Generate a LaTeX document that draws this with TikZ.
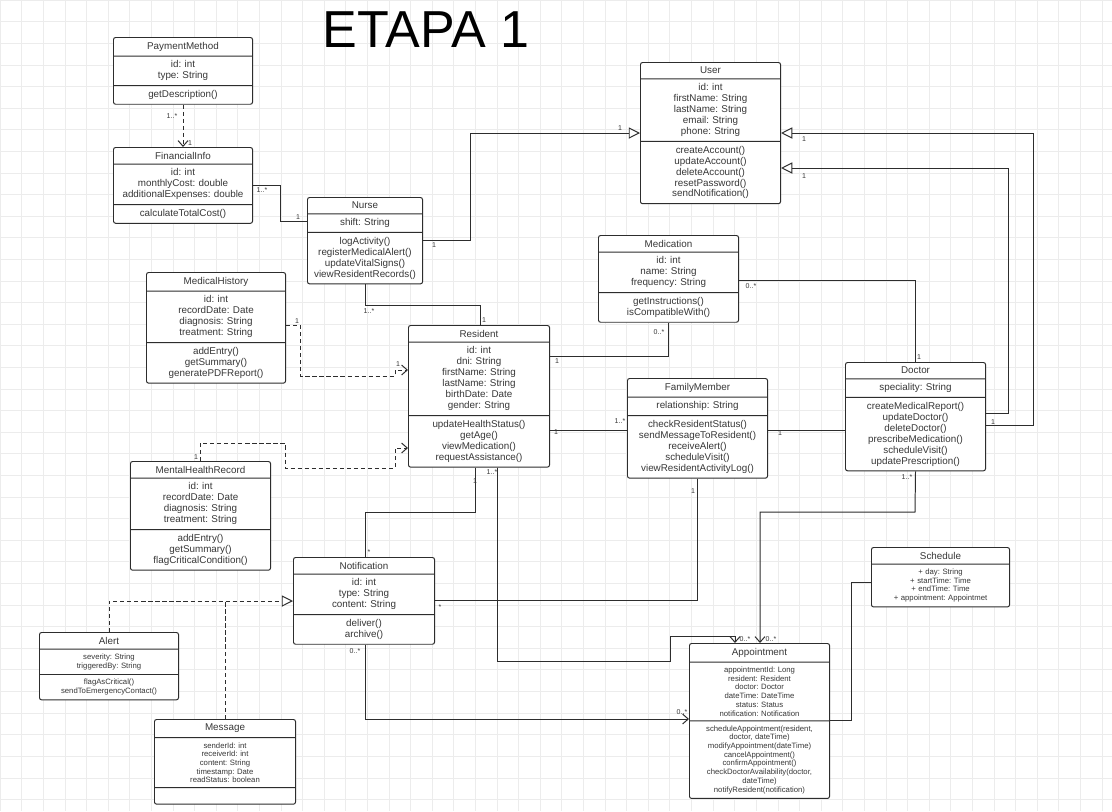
\documentclass[tikz,border=0pt]{standalone}
\usepackage{fontspec}
\setmainfont{Liberation Sans}
\frenchspacing
\usetikzlibrary{positioning,arrows.meta,shapes.multipart}
\definecolor{lineGrey}{RGB}{45,45,45}
\definecolor{textGrey}{RGB}{55,55,55}
\definecolor{gridGrey}{RGB}{236,236,236}

\begin{document}
\begin{tikzpicture}[
    x=0.025cm, y=-0.025cm,
    umlclass/.style={
        draw=lineGrey,
        fill=white,
        rounded corners=1.5pt,
        line width=0.7pt,
        rectangle split,
        rectangle split parts=3,
        anchor=north west,
        text width=#1,
        inner xsep=0pt,
        inner ysep=3pt,
        align=center,
        text=textGrey,
        font=\fontsize{7}{7.8}\selectfont
    },
    smallclass/.style={
        umlclass=#1,
        font=\fontsize{5.5}{6.2}\selectfont
    },
    assoc/.style={
        draw=lineGrey,
        line width=0.7pt
    },
    arr/.style={
        assoc,
        -{Straight Barb[length=4pt,width=7pt]}
    },
    dep/.style={
        arr,
        dash pattern=on 3pt off 2pt
    },
    gen/.style={
        assoc,
        -{Triangle[open,length=8pt,width=8pt,fill=white]}
    },
    mult/.style={
        font=\fontsize{5}{6}\selectfont,
        text=textGrey,
        inner sep=1pt
    }
]

% background and grid
\path[use as bounding box, fill=white] (0,0) rectangle (1112,811);
\draw[gridGrey, line width=0.4pt, step=0.54cm] (0,0) grid (1112,811);

\node[font=\fontsize{37}{40}\selectfont, text=black] (title) at (426,30) {ETAPA 1};

% classes
\node[umlclass=3.475cm] (payment) at (113,37) {PaymentMethod
    \nodepart{two} id: int\\ type: String
    \nodepart{three} getDescription()};

\node[umlclass=3.475cm] (financial) at (113,147) {FinancialInfo
    \nodepart{two} id: int\\ monthlyCost: double\\ additionalExpenses: double
    \nodepart{three} calculateTotalCost()};

\node[umlclass=3.5cm] (user) at (640,62) {User
    \nodepart{two} id: int\\ firstName: String\\ lastName: String\\ email: String\\ phone: String
    \nodepart{three} createAccount()\\ updateAccount()\\ deleteAccount()\\ resetPassword()\\ sendNotification()};

\node[umlclass=2.875cm] (nurse) at (307,197) {Nurse
    \nodepart{two} shift: String
    \nodepart{three} logActivity()\\ registerMedicalAlert()\\ updateVitalSigns()\\ viewResidentRecords()};

\node[umlclass=3.475cm] (medhistory) at (146,272) {MedicalHistory
    \nodepart{two} id: int\\ recordDate: Date\\ diagnosis: String\\ treatment: String
    \nodepart{three} addEntry()\\ getSummary()\\ generatePDFReport()};

\node[umlclass=3.5cm] (medication) at (598,235) {Medication
    \nodepart{two} id: int\\ name: String\\ frequency: String
    \nodepart{three} getInstructions()\\ isCompatibleWith()};

\node[umlclass=3.525cm] (resident) at (408,325) {Resident
    \nodepart{two} id: int\\ dni: String\\ firstName: String\\ lastName: String\\ birthDate: Date\\ gender: String
    \nodepart{three} updateHealthStatus()\\ getAge()\\ viewMedication()\\ requestAssistance()};

\node[umlclass=3.5cm] (family) at (627,378) {FamilyMember
    \nodepart{two} relationship: String
    \nodepart{three} checkResidentStatus()\\ sendMessageToResident()\\ receiveAlert()\\ scheduleVisit()\\ viewResidentActivityLog()};

\node[umlclass=3.5cm] (doctor) at (845,362) {Doctor
    \nodepart{two} speciality: String
    \nodepart{three} createMedicalReport()\\ updateDoctor()\\ deleteDoctor()\\ prescribeMedication()\\ scheduleVisit()\\ updatePrescription()};

\node[umlclass=3.5cm] (mental) at (130,461) {MentalHealthRecord
    \nodepart{two} id: int\\ recordDate: Date\\ diagnosis: String\\ treatment: String
    \nodepart{three} addEntry()\\ getSummary()\\ flagCriticalCondition()};

\node[umlclass=3.525cm] (notification) at (293,557) {Notification
    \nodepart{two} id: int\\ type: String\\ content: String
    \nodepart{three} deliver()\\ archive()};

\node[smallclass=3.45cm, rectangle split parts=2] (schedule) at (871,547) {{\fontsize{7}{7.8}\selectfont Schedule}
    \nodepart{two} + day: String\\ + startTime: Time\\ + endTime: Time\\ + appointment: Appointmet};

\node[smallclass=3.475cm] (alert) at (39,632) {{\fontsize{7}{7.8}\selectfont Alert}
    \nodepart{two} severity: String\\ triggeredBy: String
    \nodepart{three} flagAsCritical()\\ sendToEmergencyContact()};

\node[smallclass=3.525cm] (message) at (154,719) {{\fontsize{7}{7.8}\selectfont Message}
    \nodepart{two} senderId: int\\ receiverId: int\\ content: String\\ timestamp: Date\\ readStatus: boolean
    \nodepart{three} \rule{0pt}{5pt}};

\node[smallclass=3.5cm] (appointment) at (689,643) {{\fontsize{7}{7.8}\selectfont Appointment}
    \nodepart{two} appointmentId: Long\\ resident: Resident\\ doctor: Doctor\\ dateTime: DateTime\\ status: Status\\ notification: Notification
    \nodepart{three} scheduleAppointment(resident,\\ doctor, dateTime)\\ modifyAppointment(dateTime)\\ cancelAppointment()\\ confirmAppointment()\\ checkDoctorAvailability(doctor,\\ dateTime)\\ notifyResident(notification)};

% connectors
\draw[dep] (payment.south) -- (financial.north);
\node[mult] (m1) at (172,116) {1..*};
\node[mult] (m2) at (190,143) {1};

\draw[assoc] (financial.east |- 0,185) -- (280,185) |- (nurse.west |- 0,221);
\node[mult] (m3) at (262,190) {1..*};
\node[mult] (m4) at (298,217) {1};

\draw[gen] (nurse.east |- 0,240) -- (470,240) |- (user.west |- 0,133);
\node[mult] (m5) at (434,245) {1};
\node[mult] (m6) at (620,128) {1};

\draw[assoc] (nurse.south -| 365,0) -- (365,305) -| (resident.north -| 480,0);
\node[mult] (m7) at (369,311) {1..*};
\node[mult] (m8) at (484,320) {1};

\draw[dep] (medhistory.east |- 0,325) -- (300,325) -- (300,376) -- (395,376) -- (395,370) -- (resident.west |- 0,370);
\node[mult] (m9) at (297,321) {1};
\node[mult] (m10) at (398,364) {1};

\draw[dep] (mental.north -| 200,0) -- (200,443) -- (285,443) -- (285,468) -- (395,468) -- (395,448) -- (resident.west |- 0,448);
\node[mult] (m11) at (196,457) {1};

\draw[assoc] (resident.east |- 0,356) -- (668,356) -- (medication.south -| 668,0);
\node[mult] (m12) at (557,361) {1};
\node[mult] (m13) at (659,332) {0..*};

\draw[assoc] (medication.east |- 0,280) -| (doctor.north);
\node[mult] (m14) at (751,286) {0..*};
\node[mult] (m15) at (919,357) {1};

\draw[assoc] (resident.east |- 0,430) -- (family.west |- 0,430);
\node[mult] (m16) at (556,432) {1};
\node[mult] (m17) at (620,421) {1..*};

\draw[assoc] (family.east |- 0,430) -- (doctor.west |- 0,430);
\node[mult] (m18) at (780,433) {1};

\draw[gen] (doctor.east |- 0,425) -- (1033,425) |- (user.east |- 0,133);
\draw[gen] (doctor.east |- 0,413) -- (1008,413) |- (user.east |- 0,168);
\node[mult] (m19) at (993,422) {1};
\node[mult] (m20) at (804,139) {1};
\node[mult] (m21) at (804,176) {1};

\draw[arr] (doctor.south) -- (915,512) -| (appointment.north -| 760,0);
\node[mult] (m22) at (907,477) {1..*};
\node[mult] (m23) at (771,639) {0..*};

\draw[arr] (resident.south -| 497,0) -- (497,661) -- (670,661) -- (670,636) -| (appointment.north -| 735,0);
\node[mult] (m24) at (492,472) {1..*};
\node[mult] (m25) at (745,639) {0..*};

\draw[assoc] (resident.south -| 475,0) -- (475,512) -| (notification.north -| 365,0);
\node[mult] (m26) at (475,481) {1};
\node[mult] (m27) at (369,552) {*};

\draw[assoc] (family.south -| 697,0) |- (notification.east |- 0,600);
\node[mult] (m28) at (693,491) {1};
\node[mult] (m29) at (440,607) {*};

\draw[arr] (notification.south -| 365,0) |- (appointment.west |- 0,719);
\node[mult] (m30) at (355,651) {0..*};
\node[mult] (m31) at (682,712) {0..*};

\draw[assoc] (schedule.west |- 0,582) -- (851,582) |- (appointment.east |- 0,720);

\draw[gen, dash pattern=on 3pt off 2pt] (alert.north) |- (notification.west |- 0,601);
\draw[assoc, dash pattern=on 3pt off 2pt] (message.north) -- (message.north |- 0,601);

\end{tikzpicture}
\end{document}
